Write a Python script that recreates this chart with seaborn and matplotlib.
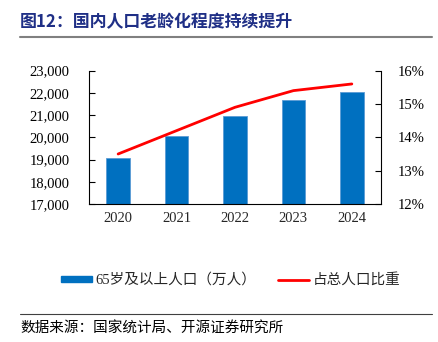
import matplotlib
matplotlib.use("Agg")
import matplotlib.pyplot as plt
import seaborn as sns
import numpy as np
import pandas as pd
from matplotlib.patches import Patch
from matplotlib.lines import Line2D
from matplotlib.ticker import FuncFormatter, MultipleLocator, FixedLocator

sns.set_style("white")
plt.rcParams['font.family'] = ['Liberation Serif', 'Noto Sans CJK SC']

years = ["2020", "2021", "2022", "2023", "2024"]
pop65 = [19064, 20056, 20978, 21676, 22023]
ratio = [13.5, 14.2, 14.9, 15.4, 15.6]
bar_label = "65岁及以上人口（万人）"
line_label = "占总人口比重"
title = "图12：国内人口老龄化程度持续提升"
source = "数据来源：国家统计局、开源证券研究所"

df = pd.DataFrame({"year": years, "pop": pop65, "ratio": ratio})

fig = plt.figure(figsize=(4.38, 3.42), dpi=100)
ax = fig.add_axes([0.203, 0.4035, 0.667, 0.39])
sns.barplot(data=df, x="year", y="pop", color="#0070C0", width=0.4,
            saturation=1, ax=ax, edgecolor="#5B9BD5", linewidth=0.6)
ax.set_xlim(-0.5, 4.5)
ax.set_ylim(17000, 23000)
ax.yaxis.set_major_locator(MultipleLocator(1000))
ax.yaxis.set_major_formatter(FuncFormatter(lambda v, p: f"{int(v):,}"))
ax.set_xlabel("")
ax.set_ylabel("")

ax2 = ax.twinx()
sns.lineplot(x=np.arange(len(years)), y=ratio, color="#FF0000", linewidth=2, ax=ax2)
ax2.set_ylim(12, 16)
ax2.yaxis.set_major_locator(MultipleLocator(1))
ax2.yaxis.set_major_formatter(FuncFormatter(lambda v, p: f"{int(round(v))}%"))
ax2.set_xlim(-0.5, 4.5)

for a in (ax, ax2):
    for s in a.spines.values():
        s.set_visible(False)
ax.spines['left'].set_visible(True)
ax.spines['bottom'].set_visible(True)
ax2.spines['right'].set_visible(True)
for sp in (ax.spines['left'], ax.spines['bottom'], ax2.spines['right']):
    sp.set_color("black")
    sp.set_linewidth(0.8)

ax.tick_params(axis='y', direction='in', length=4, width=0.8, labelsize=10.5, pad=14, colors='black')
ax2.tick_params(axis='y', direction='in', length=4, width=0.8, labelsize=10.5, pad=12, colors='black')
ax.xaxis.set_minor_locator(FixedLocator([0.5, 1.5, 2.5, 3.5]))
ax.tick_params(axis='x', which='major', length=0, labelsize=10.5, pad=6)
ax.tick_params(axis='x', which='minor', direction='in', length=4, width=0.8)

fig.text(0.046, 0.935, title, fontsize=12.2, fontweight='bold', color='#1F2F86',
         family=['Noto Sans CJK SC', 'DejaVu Sans'], va='center', ha='left')
fig.add_artist(Line2D([0.046, 0.986], [0.893, 0.893], color='#808080', linewidth=1.5))
fig.add_artist(Line2D([0.046, 0.986], [0.082, 0.082], color='#404040', linewidth=0.8))
fig.text(0.046, 0.04, source, fontsize=10.5, color='black',
         family=['Noto Sans CJK SC', 'DejaVu Sans'], va='center', ha='left')

handles = [Patch(facecolor="#0070C0", edgecolor="#0070C0", label=bar_label),
           Line2D([0], [0], color="#FF0000", linewidth=2, label=line_label)]
fig.legend(handles=handles, loc='center', bbox_to_anchor=(0.527, 0.181), ncol=2,
           frameon=False, prop={'family': ['Liberation Serif', 'Noto Sans CJK SC'], 'size': 10.5},
           handlelength=2.1, handleheight=0.3, columnspacing=1.5, handletextpad=0.25)

fig.savefig("out.png", dpi=100)
